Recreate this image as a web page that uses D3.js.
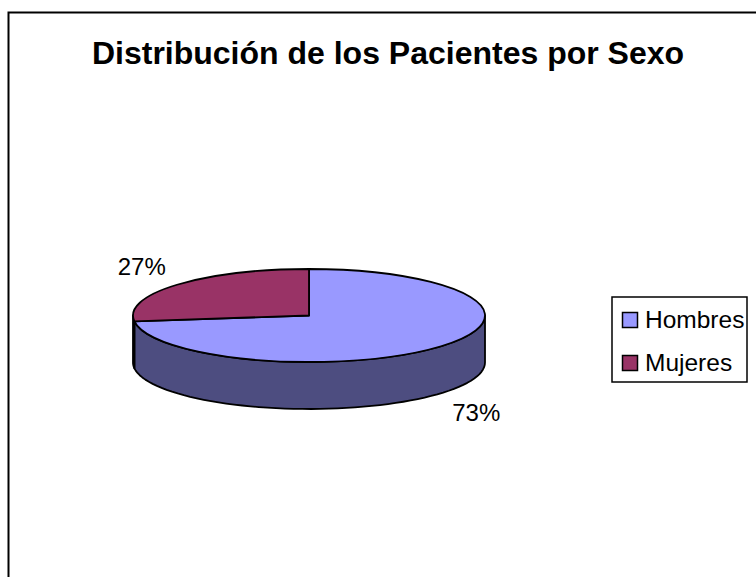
<!DOCTYPE html>
<html>
<head>
<meta charset="utf-8">
<script src="https://cdn.jsdelivr.net/npm/d3@7"></script>
<style>
  body { margin: 0; background: #fff; }
  svg { display: block; font-family: "Liberation Sans", Arial, sans-serif; }
</style>
</head>
<body>
<svg width="756" height="577"></svg>
<script>
// данные
const categories = ["Hombres", "Mujeres"];
const values = [73, 27];
const labels = ["73%", "27%"];
const topColors = ["#9999FF", "#993366"];
const sideColors = ["#4D4D80", "#4D1933"];
const title = "Distribución de los Pacientes por Sexo";

const svg = d3.select("svg");

// рамка
svg.append("rect")
    .attr("x", 8.5).attr("y", 12.5)
    .attr("width", 800).attr("height", 600)
    .attr("fill", "#fff")
    .attr("stroke", "#000")
    .attr("stroke-width", 2);

svg.append("text")
    .attr("x", 388).attr("y", 64)
    .attr("text-anchor", "middle")
    .style("font-size", "32px")
    .style("font-weight", "bold")
    .text(title);

// параметры эллипса
const pie3d = { cx: 309, cy: 315.5, rx: 176, ry: 46.5, depth: 47 };

const pie = d3.pie().sort(null).startAngle(0).endAngle(2 * Math.PI);
const arcs = pie(values);

const px = a => pie3d.cx + pie3d.rx * Math.sin(a);
const py = a => pie3d.cy - pie3d.ry * Math.cos(a);

// боковые стенки (видимая передняя часть: от 90° до 270°)
function sidePath(a0, a1) {
    let s = Math.max(a0, Math.PI / 2);
    let e = Math.min(a1, 3 * Math.PI / 2);
    if (e <= s) return null;
    let steps = d3.range(0, 61).map(i => s + (e - s) * i / 60);
    let top = steps.map(a => [px(a), py(a)]);
    let bottom = steps.slice().reverse().map(a => [px(a), py(a) + pie3d.depth]);
    return d3.line()(top.concat(bottom)) + "Z";
}

arcs.forEach((d, i) => {
    let p = sidePath(d.startAngle, d.endAngle);
    if (p) {
        svg.append("path")
            .attr("d", p)
            .attr("fill", sideColors[i])
            .attr("stroke", "#000")
            .attr("stroke-width", 1.8)
            .attr("stroke-linejoin", "round");
    }
});

// верхняя поверхность
const arc = d3.arc().innerRadius(0).outerRadius(pie3d.rx);
const gTop = svg.append("g")
    .attr("transform", `translate(${pie3d.cx}, ${pie3d.cy}) scale(1, ${pie3d.ry / pie3d.rx})`);

gTop.selectAll("path")
    .data(arcs)
    .enter()
    .append("path")
    .attr("d", arc)
    .attr("fill", (d, i) => topColors[i])
    .attr("stroke", "#000")
    .attr("stroke-width", 1.8)
    .attr("stroke-linejoin", "round")
    .attr("vector-effect", "non-scaling-stroke");

// подписи процентов
arcs.forEach((d, i) => {
    let mid = (d.startAngle + d.endAngle) / 2;
    let lx = pie3d.cx + 223 * Math.sin(mid);
    let ly = pie3d.cy - 75.5 * Math.cos(mid) + (Math.cos(mid) < 0 ? pie3d.depth : 0);
    svg.append("text")
        .attr("x", lx).attr("y", ly + 9)
        .attr("text-anchor", "middle")
        .style("font-size", "24px")
        .text(labels[i]);
});

// легенда
const legend = svg.append("g");
legend.append("rect")
    .attr("x", 612).attr("y", 297)
    .attr("width", 135).attr("height", 85)
    .attr("fill", "#fff")
    .attr("stroke", "#000")
    .attr("stroke-width", 1.5);

categories.forEach((c, i) => {
    legend.append("rect")
        .attr("x", 622.5).attr("y", 312.5 + i * 43)
        .attr("width", 15).attr("height", 15)
        .attr("fill", topColors[i])
        .attr("stroke", "#000")
        .attr("stroke-width", 1.5);
    legend.append("text")
        .attr("x", 645).attr("y", 328 + i * 43)
        .style("font-size", "24.5px")
        .text(c);
});
</script>
</body>
</html>
